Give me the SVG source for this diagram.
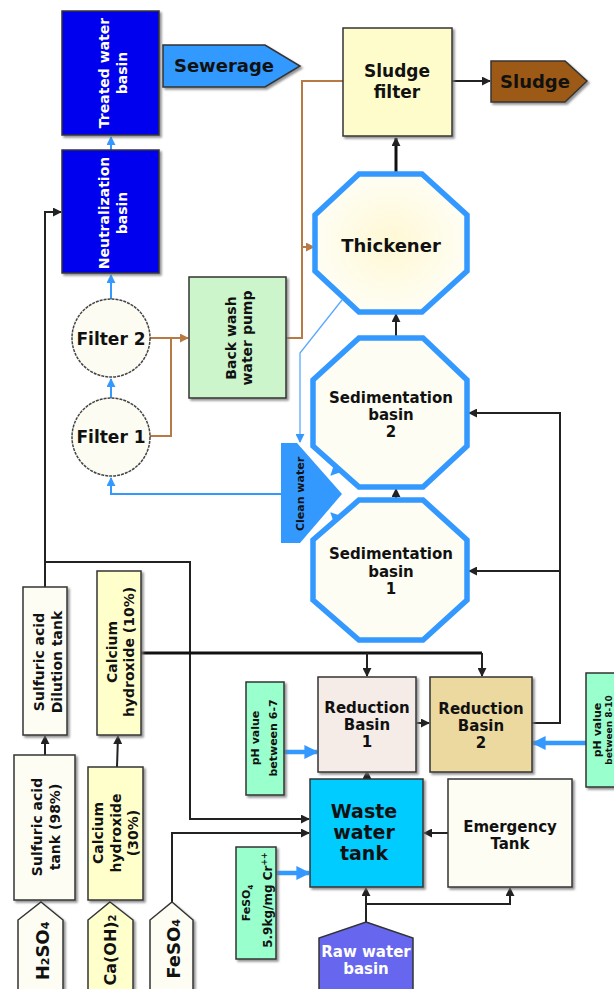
<svg xmlns="http://www.w3.org/2000/svg" width="614" height="989" viewBox="0 0 614 989">
<defs>
<style>
text{font-family:"DejaVu Sans","Verdana",sans-serif;font-weight:bold;fill:#111;}
.w{fill:#fff;}
.box{stroke:#333;stroke-width:1.5;}
.oct{stroke:#3399ff;stroke-width:5.5;}
.blk{fill:none;stroke:#222;stroke-width:2;}
.blk3{fill:none;stroke:#111;stroke-width:3;}
.blu{fill:none;stroke:#3399ff;stroke-width:2;}
.blut{fill:none;stroke:#5aa8ff;stroke-width:1.3;}
.bluT{fill:none;stroke:#3399ff;stroke-width:4.5;}
.brn{fill:none;stroke:#b87a45;stroke-width:2;}
</style>
<filter id="sh" x="-10%" y="-10%" width="130%" height="130%">
<feDropShadow dx="2" dy="2" stdDeviation="0.8" flood-color="#777" flood-opacity="0.8"/>
</filter>
<radialGradient id="thg" cx="0.5" cy="0.5" r="0.55">
<stop offset="0" stop-color="#fff8d4"/>
<stop offset="1" stop-color="#fefef6"/>
</radialGradient>
<marker id="ak" viewBox="0 0 10 10" refX="9" refY="5" markerUnits="userSpaceOnUse" markerWidth="9" markerHeight="9" orient="auto"><path d="M0,0L10,5L0,10z" fill="#222"/></marker>
<marker id="ab" viewBox="0 0 10 10" refX="9" refY="5" markerUnits="userSpaceOnUse" markerWidth="9" markerHeight="9" orient="auto"><path d="M0,0L10,5L0,10z" fill="#3399ff"/></marker>
<marker id="abT" viewBox="0 0 10 10" refX="9" refY="5" markerUnits="userSpaceOnUse" markerWidth="14" markerHeight="14" orient="auto"><path d="M0,0L10,5L0,10z" fill="#3399ff"/></marker>
<marker id="an" viewBox="0 0 10 10" refX="9" refY="5" markerUnits="userSpaceOnUse" markerWidth="9" markerHeight="9" orient="auto"><path d="M0,0L10,5L0,10z" fill="#b87a45"/></marker>
</defs>
<rect width="614" height="989" fill="#fff"/>

<g id="connectors">
<path class="blu" d="M111,150V137" marker-end="url(#ab)"/>
<path class="blu" d="M111,299V275" marker-end="url(#ab)"/>
<path class="blu" d="M111,398V379" marker-end="url(#ab)"/>
<path class="blu" d="M281,494H111V478" marker-end="url(#ab)"/>
<path class="blut" d="M342,300L300,353V442" marker-end="url(#ab)"/>
<path class="blut" d="M344,462L331,475" marker-end="url(#ab)"/>
<path class="blut" d="M344,526L331,513" marker-end="url(#ab)"/>
<path class="bluT" d="M284,752H317" marker-end="url(#abT)"/>
<path class="bluT" d="M276,873H309" marker-end="url(#abT)"/>
<path class="bluT" d="M586,743H533" marker-end="url(#abT)"/>
<path class="brn" d="M150,338H188" marker-end="url(#an)"/>
<path class="brn" d="M150,436H171V338"/>
<path class="brn" d="M286,338H302V81H343"/>
<path class="brn" d="M302,247H314" marker-end="url(#an)"/>
<path class="blk" d="M45,587V212H61" marker-end="url(#ak)"/>
<path class="blk" d="M45,562H190V819H309" marker-end="url(#ak)"/>
<path class="blk" d="M172,902V833H309" marker-end="url(#ak)"/>
<path class="blk3" d="M141,653H482"/>
<path class="blk" d="M367,653V676" marker-end="url(#ak)"/>
<path class="blk" d="M482,653V676" marker-end="url(#ak)"/>
<path class="blk" d="M45,755V736" marker-end="url(#ak)"/>
<path class="blk" d="M117,767L118,736" marker-end="url(#ak)"/>
<path class="blk" d="M416,723H429" marker-end="url(#ak)"/>
<path class="blk" d="M532,723H560V413H469" marker-end="url(#ak)"/>
<path class="blk" d="M560,571H469" marker-end="url(#ak)"/>
<path class="blk" d="M367,780V771" marker-end="url(#ak)"/>
<path class="blk" d="M448,833H424" marker-end="url(#ak)"/>
<path class="blk" d="M366,922V888" marker-end="url(#ak)"/>
<path class="blk" d="M366,904H510V888" marker-end="url(#ak)"/>
<path class="blk" d="M396,500V489" marker-end="url(#ak)"/>
<path class="blk" d="M396,338V314" marker-end="url(#ak)"/>
<path class="blk3" d="M396,174V138" marker-end="url(#ak)"/>
<path class="blk" d="M452,81H490" stroke="#555" marker-end="url(#ak)"/>
</g>

<g id="treated">
<rect class="box" x="62" y="11" width="97" height="124" fill="#0000ee" filter="url(#sh)"/>
<text class="w" font-size="14" text-anchor="middle" transform="translate(109,73) rotate(-90)">Treated water</text>
<text class="w" font-size="14" text-anchor="middle" transform="translate(127,73) rotate(-90)">basin</text>
</g>
<g id="neutralization">
<rect class="box" x="62" y="150" width="97" height="123" fill="#0000ee" filter="url(#sh)"/>
<text class="w" font-size="14" text-anchor="middle" transform="translate(109,213) rotate(-90)">Neutralization</text>
<text class="w" font-size="14" text-anchor="middle" transform="translate(127,213) rotate(-90)">basin</text>
</g>
<g id="sewerage">
<path class="box" d="M163,45H265L300,66L265,87H163Z" fill="#3399ff" filter="url(#sh)"/>
<text font-size="18" x="224" y="72" text-anchor="middle">Sewerage</text>
</g>
<g id="sludgefilter">
<rect class="box" x="343" y="28" width="109" height="108" fill="#fffccc" filter="url(#sh)"/>
<text font-size="17" x="397" y="77" text-anchor="middle">Sludge</text>
<text font-size="17" x="397" y="98" text-anchor="middle">filter</text>
</g>
<g id="sludge">
<path class="box" d="M491,61H565L587,81L565,102H491Z" fill="#9c5a14" filter="url(#sh)"/>
<text font-size="18" x="535" y="88" text-anchor="middle">Sludge</text>
</g>
<g id="thickener">
<path class="oct" d="M359,174H422L467,215V271L422,312H359L315,271V215Z" fill="url(#thg)" stroke-width="4.5"/>
<text font-size="18" x="391" y="252" text-anchor="middle">Thickener</text>
</g>
<g id="sed2">
<path class="oct" d="M359,338H423L467,380V446L423,487H359L313,446V380Z" fill="#fdfdf3"/>
<text font-size="15" x="391" y="403" text-anchor="middle">Sedimentation</text>
<text font-size="15" x="391" y="420" text-anchor="middle">basin</text>
<text font-size="15" x="391" y="437" text-anchor="middle">2</text>
</g>
<g id="sed1">
<path class="oct" d="M359,500H423L467,540V600L423,640H359L313,600V540Z" fill="#fdfdf3"/>
<text font-size="15" x="391" y="559" text-anchor="middle">Sedimentation</text>
<text font-size="15" x="391" y="577" text-anchor="middle">basin</text>
<text font-size="15" x="391" y="594" text-anchor="middle">1</text>
</g>
<g id="cleanwater">
<path d="M281,443H297L342,494L300,543H281Z" fill="#3399ff"/>
<text font-size="11" text-anchor="middle" transform="translate(304,494) rotate(-90)">Clean water</text>
</g>
<g id="filter2">
<circle cx="111" cy="338" r="39" fill="#fdfcf2" stroke="#444" stroke-width="1.5" stroke-dasharray="3 1"/>
<text font-size="17" x="111" y="345" text-anchor="middle">Filter 2</text>
</g>
<g id="filter1">
<circle cx="111" cy="437" r="39" fill="#fdfcf2" stroke="#444" stroke-width="1.5" stroke-dasharray="3 1"/>
<text font-size="17" x="111" y="443" text-anchor="middle">Filter 1</text>
</g>
<g id="backwash">
<rect class="box" x="189" y="277" width="97" height="121" fill="#ccf5cc" filter="url(#sh)"/>
<text font-size="14" text-anchor="middle" transform="translate(236,338) rotate(-90)">Back wash</text>
<text font-size="14" text-anchor="middle" transform="translate(252,338) rotate(-90)">water pump</text>
</g>
<g id="dilution">
<rect class="box" x="23" y="587" width="44" height="148" fill="#fdfdf3" filter="url(#sh)"/>
<text font-size="14" text-anchor="middle" transform="translate(44,662) rotate(-90)">Sulfuric acid</text>
<text font-size="14" text-anchor="middle" transform="translate(62,662) rotate(-90)">Dilution tank</text>
</g>
<g id="calcium10">
<rect class="box" x="97" y="571" width="44" height="164" fill="#ffffcc" filter="url(#sh)"/>
<text font-size="14" text-anchor="middle" transform="translate(117,652) rotate(-90)">Calcium</text>
<text font-size="14" text-anchor="middle" transform="translate(134,652) rotate(-90)">hydroxide (10%)</text>
</g>
<g id="sulfuric98">
<rect class="box" x="14" y="755" width="61" height="145" fill="#fdfdf3" filter="url(#sh)"/>
<text font-size="14" text-anchor="middle" transform="translate(42,827) rotate(-90)">Sulfuric acid</text>
<text font-size="14" text-anchor="middle" transform="translate(60,827) rotate(-90)">tank (98%)</text>
</g>
<g id="calcium30">
<rect class="box" x="88" y="767" width="55" height="133" fill="#ffffcc" filter="url(#sh)"/>
<text font-size="14" text-anchor="middle" transform="translate(103,833) rotate(-90)">Calcium</text>
<text font-size="14" text-anchor="middle" transform="translate(121,833) rotate(-90)">hydroxide</text>
<text font-size="14" text-anchor="middle" transform="translate(138,833) rotate(-90)">(30%)</text>
</g>
<g id="h2so4">
<path class="box" d="M41,902L63,920V995H18V920Z" fill="#fdfdf3" filter="url(#sh)"/>
<text font-size="18" text-anchor="middle" transform="translate(49,951) rotate(-90)">H<tspan font-size="11">2</tspan>SO<tspan font-size="11">4</tspan></text>
</g>
<g id="caoh2">
<path class="box" d="M110,902L133,920V995H88V920Z" fill="#ffffcc" filter="url(#sh)"/>
<text font-size="16" text-anchor="middle" transform="translate(116,950) rotate(-90)">Ca(OH)<tspan font-size="10">2</tspan></text>
</g>
<g id="feso4">
<path class="box" d="M172,902L193,920V995H150V920Z" fill="#fdfdf3" filter="url(#sh)"/>
<text font-size="18" text-anchor="middle" transform="translate(180,949) rotate(-90)">FeSO<tspan font-size="11">4</tspan></text>
</g>
<g id="ph67">
<rect class="box" x="246" y="682" width="38" height="113" fill="#99ffcc" filter="url(#sh)"/>
<text font-size="11" text-anchor="middle" transform="translate(259,738) rotate(-90)">pH value</text>
<text font-size="11" text-anchor="middle" transform="translate(277,738) rotate(-90)">between 6-7</text>
</g>
<g id="feso4dose">
<rect class="box" x="236" y="847" width="40" height="112" fill="#99ffcc" filter="url(#sh)"/>
<text font-size="11" text-anchor="middle" transform="translate(250,903) rotate(-90)">FeSO<tspan font-size="7" dy="3">4</tspan></text>
<text font-size="12" text-anchor="middle" transform="translate(272,900) rotate(-90)">5.9kg/mg Cr<tspan font-size="8" dy="-5">++</tspan></text>
</g>
<g id="phright">
<rect class="box" x="586" y="673" width="40" height="114" fill="#99ffcc" filter="url(#sh)"/>
<text font-size="11" text-anchor="middle" transform="translate(601,730) rotate(-90)">pH value</text>
<text font-size="9" text-anchor="middle" transform="translate(612,730) rotate(-90)">between 8-10</text>
</g>
<g id="reduction1">
<rect class="box" x="318" y="677" width="98" height="95" fill="#f5ece8" filter="url(#sh)"/>
<text font-size="15" x="367" y="713" text-anchor="middle">Reduction</text>
<text font-size="15" x="367" y="730" text-anchor="middle">Basin</text>
<text font-size="15" x="367" y="747" text-anchor="middle">1</text>
</g>
<g id="reduction2">
<rect class="box" x="430" y="677" width="102" height="95" fill="#ecd9a0" filter="url(#sh)"/>
<text font-size="15" x="481" y="714" text-anchor="middle">Reduction</text>
<text font-size="15" x="481" y="731" text-anchor="middle">Basin</text>
<text font-size="15" x="481" y="748" text-anchor="middle">2</text>
</g>
<g id="wastewater">
<rect class="box" x="310" y="779" width="113" height="108" fill="#00ccff" filter="url(#sh)"/>
<text font-size="19" x="364" y="818" text-anchor="middle">Waste</text>
<text font-size="19" x="364" y="839" text-anchor="middle">water</text>
<text font-size="19" x="364" y="860" text-anchor="middle">tank</text>
</g>
<g id="emergency">
<rect class="box" x="448" y="779" width="124" height="108" fill="#fdfdf3" filter="url(#sh)"/>
<text font-size="15" x="510" y="832" text-anchor="middle">Emergency</text>
<text font-size="15" x="510" y="849" text-anchor="middle">Tank</text>
</g>
<g id="rawwater">
<path class="box" d="M366,922L413,938V995H319V938Z" fill="#6666ee"/>
<text class="w" font-size="15" x="366" y="957" text-anchor="middle">Raw water</text>
<text class="w" font-size="15" x="366" y="974" text-anchor="middle">basin</text>
</g>
</svg>
